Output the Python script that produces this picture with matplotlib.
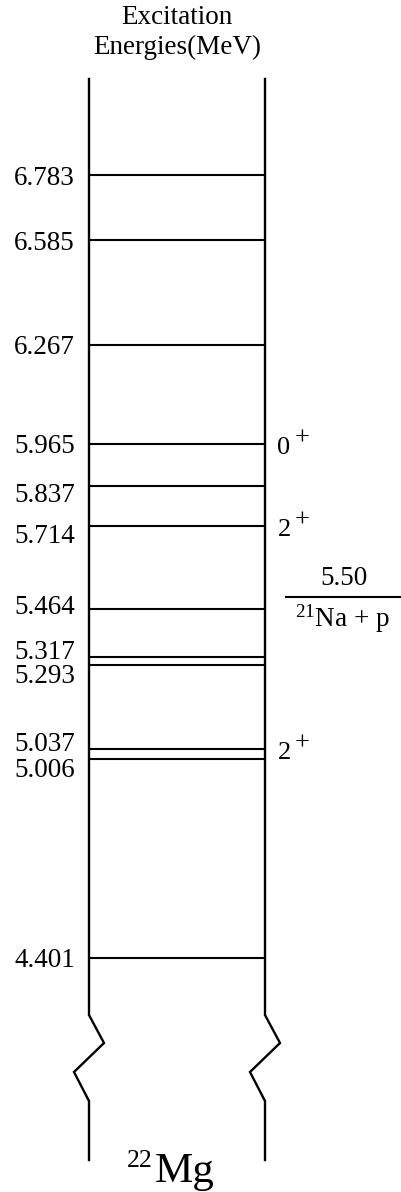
import matplotlib
matplotlib.use("Agg")
import matplotlib.pyplot as plt

plt.rcParams['font.family'] = ['Liberation Serif', 'DejaVu Serif']
plt.rcParams['mathtext.fontset'] = 'custom'
plt.rcParams['mathtext.rm'] = 'Liberation Serif'
plt.rcParams['mathtext.it'] = 'Liberation Serif:italic'

# Level scheme of 22Mg (excitation energies in MeV)
levels = [6.783, 6.585, 6.267, 5.965, 5.837, 5.714, 5.464, 5.317, 5.293, 5.037, 5.006, 4.401]
level_labels = ["6.783", "6.585", "6.267", "5.965", "5.837", "5.714",
                "5.464", "5.317", "5.293", "5.037", "5.006", "4.401"]
spin_energies = [5.965, 5.714, 5.037]
spin_values = ["0", "2", "2"]
spin_parity = ["+", "+", "+"]
threshold = 5.50
threshold_label = "5.50"
channel_label = r"$^{21}$Na + p"
nucleus_mass = "22"
nucleus_symbol = "Mg"
title_lines = ["Excitation", "Energies(MeV)"]

# label nudges (points) where neighbouring levels crowd each other
label_nudge = {5.837: -5, 5.714: -5, 5.464: 3, 5.317: 5, 5.293: -6, 5.037: 5, 5.006: -6}

W, H = 401, 1192
fig = plt.figure(figsize=(W / 100, H / 100), dpi=100)

# energy axis spanning the whole figure
px_per_mev = 328.6
e_ref, px_ref = 5.639, 551.1
e_top = e_ref + px_ref / px_per_mev
e_bot = e_ref - (H - px_ref) / px_per_mev
ax = fig.add_axes([0, 0, 1, 1])
ax.set_xlim(0, W)
ax.set_ylim(e_bot, e_top)
ax.axis('off')

# overlay in pixel units for frame, break marks and titles
deco = fig.add_axes([0, 0, 1, 1])
deco.set_xlim(0, W)
deco.set_ylim(H, 0)
deco.axis('off')
deco.patch.set_alpha(0)

x_left, x_right = 89, 265
fs = 19.5
fs_spin = 19

# column sides with break marks
for x0 in (x_left, x_right):
    deco.plot([x0, x0, x0 + 15, x0 - 15, x0, x0],
              [79, 1015, 1043, 1072, 1101, 1160],
              color='black', lw=1.7, solid_joinstyle='miter')

# levels
ax.hlines(levels, x_left, x_right, color='black', lw=1.5)
for e, lab in zip(levels, level_labels):
    ax.annotate(lab, xy=(x_left, e), xytext=(-10, label_nudge.get(e, 0)),
                textcoords='offset points', ha='right', va='center_baseline',
                fontsize=fs)

# spins and parities
for e, j, p in zip(spin_energies, spin_values, spin_parity):
    ax.annotate(j, xy=(x_right, e), xytext=(9, -1), textcoords='offset points',
                ha='left', va='center_baseline', fontsize=fs_spin)
    ax.annotate(p, xy=(x_right, e), xytext=(21, 6), textcoords='offset points',
                ha='left', va='center_baseline', fontsize=fs_spin)

# proton threshold
ax.hlines(threshold, 285, W, color='black', lw=1.5)
ax.annotate(threshold_label, xy=(344, threshold), xytext=(0, 4),
            textcoords='offset points', ha='center', va='bottom', fontsize=fs)
ax.annotate(channel_label, xy=(342, threshold), xytext=(0, -4),
            textcoords='offset points', ha='center', va='top', fontsize=fs)

# titles
deco.text(177, 17, title_lines[0], ha='center', va='center', fontsize=fs)
deco.text(177, 47, title_lines[1], ha='center', va='center', fontsize=fs)

# nucleus name
deco.text(155, 1182, nucleus_symbol, ha='left', va='baseline', fontsize=31)
deco.text(153, 1167, nucleus_mass, ha='right', va='baseline', fontsize=18.5)

fig.savefig("out.png", dpi=100)
